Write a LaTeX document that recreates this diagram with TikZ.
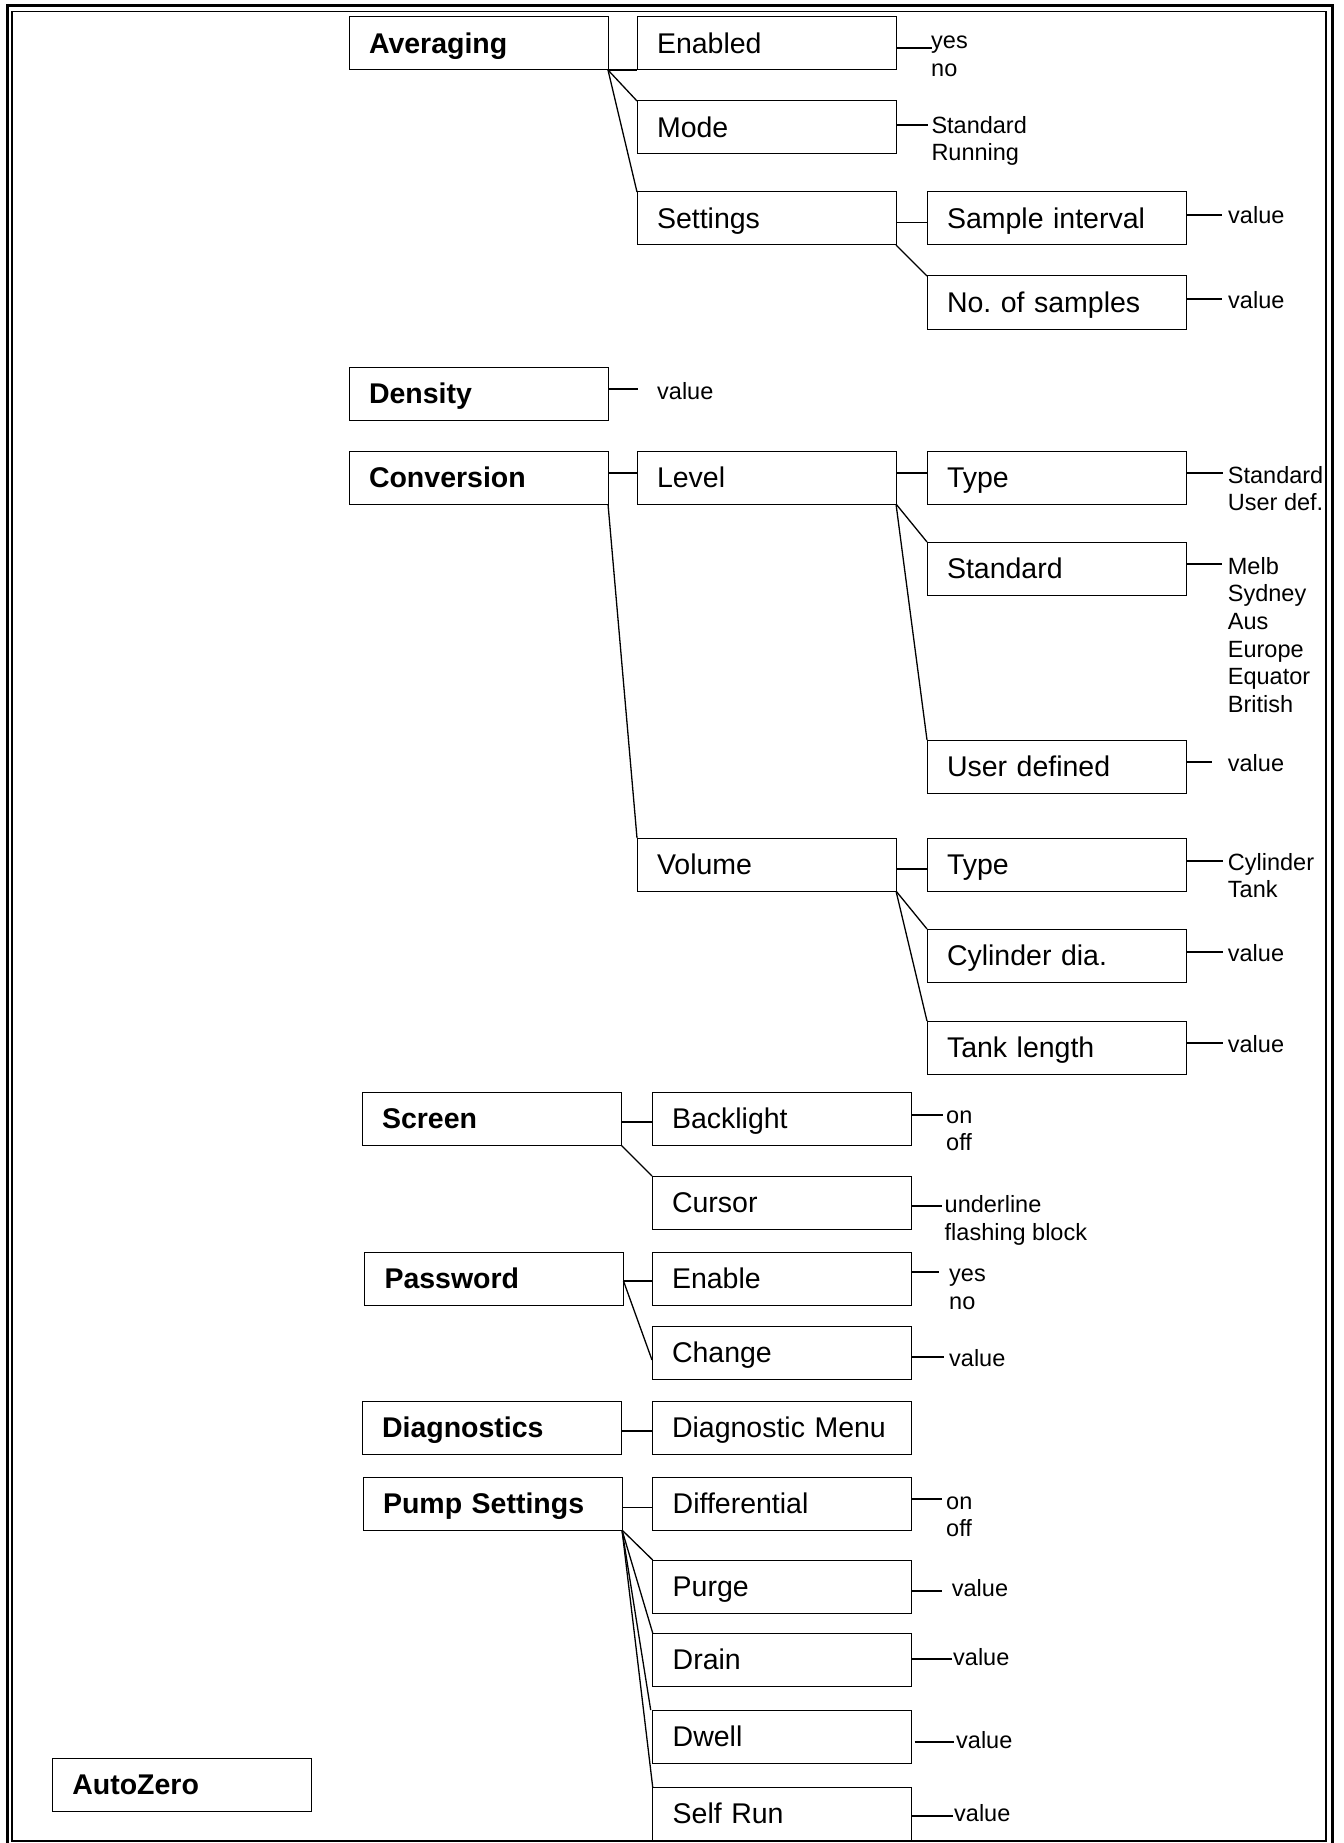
\documentclass[tikz,border=0pt]{standalone}
\usepackage{fontspec}
\setmainfont{Liberation Sans}
\frenchspacing
\begin{document}
\begin{tikzpicture}[x=1pt,y=-1pt,
  box/.style={draw, line width=1pt, anchor=north west, outer sep=0pt,
    minimum height=53pt, text width=219pt, inner xsep=20pt, inner ysep=0pt,
    text height=20pt, text depth=0pt, align=left,
    font=\fontsize{28.5}{30}\selectfont},
  bbox/.style={box, font=\fontsize{28.5}{30}\selectfont\bfseries},
  conn/.style={line width=1.3pt},
  lead/.style={line width=1.8pt},
  opt/.style={anchor=base west, inner sep=0pt, font=\fontsize{23.5}{28}\selectfont}]
\useasboundingbox (0,0) rectangle (1343,1843);
% frame
\draw[line width=3pt] (7,6) rectangle (1332,1850);
\draw[line width=1.2pt] (12,11.5) rectangle (1326,1841);

% boxes
\node[bbox] (avg) at (349,17) {Averaging};
\node[box] (en) at (637,17) {Enabled};
\node[box] (mode) at (637,101) {Mode};
\node[box] (set) at (637,192) {Settings};
\node[box] (si) at (927,192) {Sample interval};
\node[box] (ns) at (927,276) {No.\ of samples};
\node[bbox] (den) at (349,367) {Density};
\node[bbox] (conv) at (349,451) {Conversion};
\node[box] (lev) at (637,451) {Level};
\node[box] (lt) at (927,451) {Type};
\node[box] (lst) at (927,542) {Standard};
\node[box] (lud) at (927,740) {User defined};
\node[box] (vol) at (637,838) {Volume};
\node[box] (vt) at (927,838) {Type};
\node[box] (vcd) at (927,929) {Cylinder dia.};
\node[box] (vtl) at (927,1021) {Tank length};
\node[bbox] (scr) at (362,1092) {Screen};
\node[box] (bkl) at (652,1092) {Backlight};
\node[box] (cur) at (652,1176) {Cursor};
\node[bbox] (pwd) at (364.5,1252) {Password};
\node[box] (ena) at (652,1252) {Enable};
\node[box] (chg) at (652,1326) {Change};
\node[bbox] (dia) at (362,1401) {Diagnostics};
\node[box] (dm) at (652,1401) {Diagnostic Menu};
\node[bbox] (pump) at (363,1477) {Pump Settings};
\node[box] (dif) at (652.7,1477) {Differential};
\node[box] (pur) at (652.7,1560) {Purge};
\node[box] (drn) at (652.7,1633) {Drain};
\node[box] (dwl) at (652.7,1710) {Dwell};
\node[box] (sr) at (652.7,1787) {Self Run};
\node[bbox] (az) at (52.3,1758) {AutoZero};

% tree connectors
\draw[lead] (avg.south east) -- (en.south west);
\draw[conn] (avg.south east) -- (mode.north west);
\draw[conn] (avg.south east) -- (set.north west);
\draw[lead] ([yshift=-4pt]set.east) -- ([yshift=-4pt]si.west);
\draw[conn] (set.south east) -- (ns.north west);
\draw[lead] ([yshift=4.5pt]conv.east) -- ([yshift=4.5pt]lev.west);
\draw[lead] ([yshift=4.5pt]lev.east) -- ([yshift=4.5pt]lt.west);
\draw[conn] (lev.south east) -- (lst.north west);
\draw[conn] (lev.south east) -- (lud.north west);
\draw[conn] (conv.south east) -- (vol.north west);
\draw[lead] ([yshift=-4.5pt]vol.east) -- ([yshift=-4.5pt]vt.west);
\draw[conn] (vol.south east) -- (vcd.north west);
\draw[conn] (vol.south east) -- (vtl.north west);
\draw[lead] ([yshift=-3.5pt]scr.east) -- ([yshift=-3.5pt]bkl.west);
\draw[conn] (scr.south east) -- (cur.north west);
\draw[lead] ([yshift=-2.5pt]pwd.east) -- ([yshift=-2.5pt]ena.west);
\draw[conn] ([yshift=-2.5pt]pwd.east) -- ([yshift=-7.5pt]chg.west);
\draw[lead] ([yshift=-3.5pt]dia.east) -- ([yshift=-3.5pt]dm.west);
\draw[lead] ([yshift=-4pt]pump.east) -- ([yshift=-4pt]dif.west);
\draw[conn] (pump.south east) -- (pur.north west);
\draw[conn] (pump.south east) -- (drn.north west);
\draw[conn] (pump.south east) -- ([xshift=-2pt]dwl.north west);
\draw[conn] (pump.south east) -- (sr.north west);

% leader end points
\coordinate (en-o) at (931.7,47.7);
\coordinate (mode-o) at (928.3,125);
\coordinate (si-o) at (1221.7,215);
\coordinate (ns-o) at (1221.7,299);
\coordinate (den-o) at (638,389);
\coordinate (lt-o) at (1223,472.7);
\coordinate (lst-o) at (1222,564.3);
\coordinate (lud-o) at (1211.7,761.7);
\coordinate (vt-o) at (1223,861);
\coordinate (vcd-o) at (1223,951.7);
\coordinate (vtl-o) at (1223,1043);
\coordinate (bkl-o) at (943,1115);
\coordinate (cur-o) at (942,1205.7);
\coordinate (ena-o) at (939,1272);
\coordinate (chg-o) at (944,1357.3);
\coordinate (dif-o) at (941.7,1499);
\coordinate (pur-o) at (941.7,1590.7);
\coordinate (drn-o) at (951.7,1659);
\coordinate (dwl-o) at (954,1741.7);
\coordinate (sr-o) at (952.7,1815.7);

\foreach \b in {en,mode,si,ns,den,lt,lst,lud,vt,vcd,vtl,bkl,cur,ena,chg,dif,pur,drn,sr}
  \draw[lead] (\b.east |- \b-o) -- (\b-o);
\draw[lead] ([xshift=3pt]dwl.east |- dwl-o) -- (dwl-o);

% option texts
\node[opt] (en-t1) at (931,49) {yes};
\node[opt] (en-t2) at (931,76.7) {no};
\node[opt] (mode-t1) at (931.3,133.3) {Standard};
\node[opt] (mode-t2) at (931.3,161) {Running};
\node[opt] (si-t) at (1228,224) {value};
\node[opt] (ns-t) at (1228,308.3) {value};
\node[opt] (den-t) at (657,399) {value};
\node[opt] (lt-t1) at (1227.7,483.3) {Standard};
\node[opt] (lt-t2) at (1227.7,510.5) {User def.};
\node[opt] (lst-t1) at (1227.7,574) {Melb};
\node[opt] (lst-t2) at (1227.7,601.7) {Sydney};
\node[opt] (lst-t3) at (1227.7,629.3) {Aus};
\node[opt] (lst-t4) at (1227.7,657) {Europe};
\node[opt] (lst-t5) at (1227.7,684.7) {Equator};
\node[opt] (lst-t6) at (1227.7,712.3) {British};
\node[opt] (lud-t) at (1227.7,771.7) {value};
\node[opt] (vt-t1) at (1227.7,870) {Cylinder};
\node[opt] (vt-t2) at (1227.7,897.7) {Tank};
\node[opt] (vcd-t) at (1227.7,961.7) {value};
\node[opt] (vtl-t) at (1227.7,1052) {value};
\node[opt] (bkl-t1) at (946,1123.3) {on};
\node[opt] (bkl-t2) at (946,1150.7) {off};
\node[opt] (cur-t1) at (944.5,1212.7) {underline};
\node[opt] (cur-t2) at (944.5,1240) {flashing block};
\node[opt] (ena-t1) at (949,1281.7) {yes};
\node[opt] (ena-t2) at (949,1309) {no};
\node[opt] (chg-t) at (949,1366) {value};
\node[opt] (dif-t1) at (946,1509.3) {on};
\node[opt] (dif-t2) at (946,1536.7) {off};
\node[opt] (pur-t) at (951.7,1596.7) {value};
\node[opt] (drn-t) at (953,1665) {value};
\node[opt] (dwl-t) at (956,1748.3) {value};
\node[opt] (sr-t) at (954,1821) {value};
\end{tikzpicture}
\end{document}
